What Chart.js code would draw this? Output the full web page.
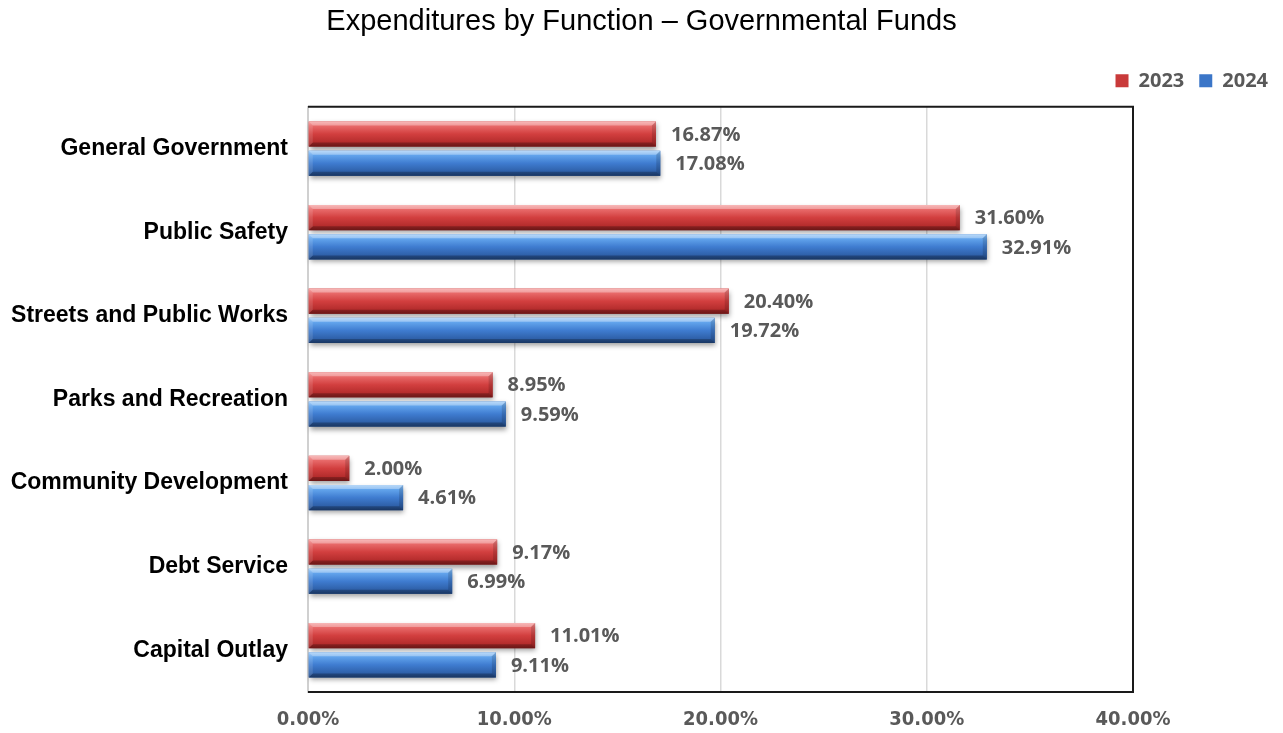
<!DOCTYPE html>
<html>
<head>
<meta charset="utf-8">
<script src="https://cdn.jsdelivr.net/npm/chart.js@4.4.1/dist/chart.umd.min.js"></script>
<style>
  html, body { margin: 0; padding: 0; background: #ffffff; }
  #wrap { width: 1283px; height: 733px; }
</style>
</head>
<body>
<div id="wrap"><canvas id="c" width="1283" height="733"></canvas></div>
<script>
const categories = [
  "General Government",
  "Public Safety",
  "Streets and Public Works",
  "Parks and Recreation",
  "Community Development",
  "Debt Service",
  "Capital Outlay"
];
const values2023 = [16.87, 31.60, 20.40, 8.95, 2.00, 9.17, 11.01];
const values2024 = [17.08, 32.91, 19.72, 9.59, 4.61, 6.99, 9.11];
const seriesNames = ["2023", "2024"];
const xTicks = [0, 10, 20, 30, 40];
const titleText = "Expenditures by Function \u2013 Governmental Funds";

const palettes = [
  { base: "#c93a3a", stops: ["#f59a9a", "#e86a6a", "#d23f3f", "#b52d2d", "#8a1d1d"] },
  { base: "#3b76c8", stops: ["#9ccaf7", "#62a4ec", "#3f7cd0", "#2f61aa", "#21467f"] }
];

const bevelPlugin = {
  id: "bevel",
  afterDatasetsDraw(chart) {
    const ctx = chart.ctx;
    chart.data.datasets.forEach((ds, di) => {
      const meta = chart.getDatasetMeta(di);
      const pal = palettes[di];
      meta.data.forEach((el) => {
        const l = Math.min(el.base, el.x), r = Math.max(el.base, el.x);
        const t = el.y - el.height / 2, b = el.y + el.height / 2;
        const g = ctx.createLinearGradient(0, t, 0, b);
        g.addColorStop(0, pal.stops[0]);
        g.addColorStop(0.18, pal.stops[1]);
        g.addColorStop(0.5, pal.stops[2]);
        g.addColorStop(0.82, pal.stops[3]);
        g.addColorStop(1, pal.stops[4]);
        ctx.save();
        ctx.shadowColor = "rgba(0,0,0,0.38)";
        ctx.shadowBlur = 5;
        ctx.shadowOffsetX = 1;
        ctx.shadowOffsetY = 3;
        ctx.fillStyle = g;
        ctx.fillRect(l, t, r - l, b - t);
        ctx.restore();
        const k = 4;
        ctx.save();
        ctx.fillStyle = "rgba(255,255,255,0.30)";
        ctx.beginPath();
        ctx.moveTo(l, t); ctx.lineTo(r, t); ctx.lineTo(r - k, t + k); ctx.lineTo(l + k, t + k);
        ctx.closePath(); ctx.fill();
        ctx.fillStyle = "rgba(0,0,0,0.22)";
        ctx.beginPath();
        ctx.moveTo(l, b); ctx.lineTo(r, b); ctx.lineTo(r - k, b - k); ctx.lineTo(l + k, b - k);
        ctx.closePath(); ctx.fill();
        ctx.fillStyle = "rgba(0,0,0,0.14)";
        ctx.beginPath();
        ctx.moveTo(r, t); ctx.lineTo(r, b); ctx.lineTo(r - k, b - k); ctx.lineTo(r - k, t + k);
        ctx.closePath(); ctx.fill();
        ctx.fillStyle = "rgba(255,255,255,0.12)";
        ctx.beginPath();
        ctx.moveTo(l, t); ctx.lineTo(l, b); ctx.lineTo(l + k, b - k); ctx.lineTo(l + k, t + k);
        ctx.closePath(); ctx.fill();
        ctx.restore();
      });
    });
  },
  afterDraw(chart) {
    const ctx = chart.ctx;
    const a = chart.chartArea;
    ctx.save();
    ctx.strokeStyle = "#1a1a1a";
    ctx.lineWidth = 2;
    ctx.beginPath();
    ctx.moveTo(a.left, a.top);
    ctx.lineTo(a.right, a.top);
    ctx.lineTo(a.right, a.bottom);
    ctx.lineTo(a.left, a.bottom);
    ctx.stroke();
    ctx.restore();
    ctx.save();
    ctx.font = "bold 20px 'Open Sans'";
    ctx.fillStyle = "#595959";
    ctx.textAlign = "left";
    ctx.textBaseline = "middle";
    chart.data.datasets.forEach((ds, di) => {
      const meta = chart.getDatasetMeta(di);
      meta.data.forEach((el, i) => {
        ctx.fillText(ds.data[i].toFixed(2) + "%", el.x + 15, el.y + 1);
      });
    });
    ctx.restore();
  }
};

new Chart(document.getElementById("c"), {
  type: "bar",
  data: {
    labels: categories,
    datasets: [
      { label: seriesNames[0], data: values2023, backgroundColor: palettes[0].base, xAxisID: "x", yAxisID: "y" },
      { label: seriesNames[1], data: values2024, backgroundColor: palettes[1].base, xAxisID: "x", yAxisID: "y" }
    ]
  },
  options: {
    indexAxis: "y",
    responsive: false,
    animation: false,
    devicePixelRatio: 1,
    categoryPercentage: 0.7,
    barPercentage: 0.86,
    layout: { padding: { left: 0, right: 0, top: 0, bottom: 0 } },
    plugins: {
      title: {
        display: true,
        text: titleText,
        color: "#000000",
        font: { family: "'Liberation Sans', Arial", size: 29, weight: "normal" },
        padding: { top: 5, bottom: 16 }
      },
      legend: {
        display: true,
        position: "top",
        align: "end",
        labels: {
          color: "#595959",
          font: { family: "'Open Sans'", size: 20, weight: "bold" },
          boxWidth: 13,
          boxHeight: 13,
          padding: 15
        }
      },
      tooltip: { enabled: false }
    },
    scales: {
      x: {
        type: "linear",
        position: "bottom",
        min: xTicks[0],
        max: xTicks[xTicks.length - 1],
        afterBuildTicks: (s) => { s.ticks = xTicks.map(v => ({ value: v })); },
        afterFit: (s) => { s.height = 41; },
        ticks: {
          color: "#595959",
          font: { family: "'Liberation Sans Narrow', 'DejaVu Sans Condensed', Arial", size: 20, weight: "bold" },
          padding: 16,
          callback: (v) => Number(v).toFixed(2) + "%"
        },
        grid: { color: "#d9d9d9", lineWidth: 1.5, drawTicks: false },
        border: { display: false }
      },
      topSpacer: {
        type: "linear",
        position: "top",
        display: true,
        grid: { display: false, drawTicks: false },
        border: { display: false },
        ticks: { display: false },
        afterFit: (s) => { s.height = 6; }
      },
      y: {
        type: "category",
        position: "left",
        afterFit: (s) => { s.width = 308; },
        ticks: {
          color: "#000000",
          font: { family: "'Liberation Sans', Arial", size: 23, weight: "bold" },
          padding: 20
        },
        grid: { display: false, drawTicks: false },
        border: { display: true, color: "#d0d0d0", width: 2 }
      },
      spacer: {
        type: "linear",
        position: "right",
        display: true,
        grid: { display: false, drawTicks: false },
        border: { display: false },
        ticks: { display: false },
        afterFit: (s) => { s.width = 150; }
      }
    }
  },
  plugins: [bevelPlugin]
});
</script>
</body>
</html>
